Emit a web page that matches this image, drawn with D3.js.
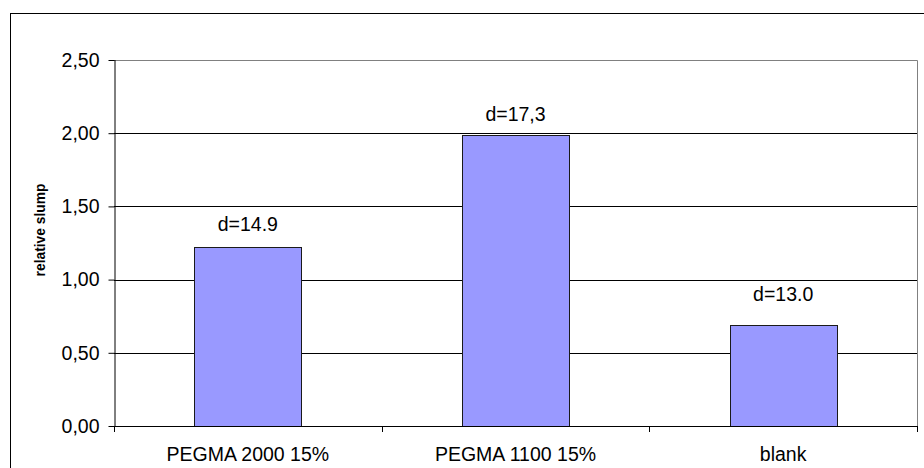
<!DOCTYPE html>
<html>
<head>
<meta charset="utf-8">
<script src="https://cdn.jsdelivr.net/npm/d3@7"></script>
<style>
  html, body { margin: 0; padding: 0; background: #fff; }
  svg { display: block; font-family: "Liberation Sans", Arial, sans-serif; }
</style>
</head>
<body>
<svg id="chart" width="924" height="468"></svg>
<script>
// Relative slump per mixture
const categories = ["PEGMA 2000 15%", "PEGMA 1100 15%", "blank"];
const slumpValues = [1.22, 1.99, 0.69];
const barLabels = ["d=14.9", "d=17,3", "d=13.0"];
const yTicks = [0, 0.5, 1.0, 1.5, 2.0, 2.5];
const yTitle = "relative slump";

const plot = { left: 114, right: 917, top: 60, bottom: 426 };

const svg = d3.select("#chart");

// Outer chart frame (runs past the right and bottom edges)
svg.append("rect")
  .attr("x", 10.5).attr("y", 13.5)
  .attr("width", 930).attr("height", 480)
  .attr("fill", "#fff").attr("stroke", "#000").attr("stroke-width", 1);

const x = d3.scaleBand()
  .domain(categories)
  .range([plot.left, plot.right])
  .paddingInner(0.6)
  .paddingOuter(0.3);

const xCat = d3.scaleBand()
  .domain(categories)
  .range([plot.left, plot.right])
  .padding(0);

const y = d3.scaleLinear()
  .domain([0, 2.5])
  .range([plot.bottom, plot.top]);

const locale = d3.formatLocale({ decimal: ",", thousands: ".", grouping: [3], currency: ["", ""] });
const fmt = locale.format(".2f");

// Horizontal gridlines
svg.append("g")
  .selectAll("line")
  .data(yTicks.filter(t => t > 0 && t < 2.5))
  .join("line")
  .attr("x1", plot.left).attr("x2", plot.right)
  .attr("y1", d => Math.round(y(d)) + 0.5).attr("y2", d => Math.round(y(d)) + 0.5)
  .attr("stroke", "#000").attr("stroke-width", 1);

// Plot area border (top & right)
svg.append("path")
  .attr("d", `M${plot.left},${plot.top + 0.5}H${plot.right + 0.5}V${plot.bottom}`)
  .attr("fill", "none").attr("stroke", "#808080").attr("stroke-width", 1);

// Bars
svg.append("g")
  .selectAll("rect")
  .data(categories)
  .join("rect")
  .attr("x", d => Math.round(x(d)) + 0.5)
  .attr("y", (d, i) => Math.round(y(slumpValues[i])) + 0.5)
  .attr("width", Math.round(x.bandwidth()))
  .attr("height", (d, i) => Math.round(y(0)) - Math.round(y(slumpValues[i])))
  .attr("fill", "#9999ff")
  .attr("stroke", "#1a1a1a").attr("stroke-width", 1);

// Value labels above bars
const labelLift = [16, 13.5, 24];
svg.append("g")
  .selectAll("text")
  .data(categories)
  .join("text")
  .attr("x", d => x(d) + x.bandwidth() / 2)
  .attr("y", (d, i) => y(slumpValues[i]) - labelLift[i])
  .attr("text-anchor", "middle")
  .attr("font-size", "19.5px")
  .attr("fill", "#000")
  .text((d, i) => barLabels[i]);

// Y axis
const yAxis = svg.append("g")
  .attr("transform", `translate(${plot.left + 0.5},0)`)
  .call(d3.axisLeft(y).tickValues(yTicks).tickFormat(fmt).tickSize(6).tickPadding(9));
yAxis.select(".domain").attr("stroke", "#000").attr("d", `M0.5,${plot.top}V${plot.bottom + 0.5}`);
yAxis.selectAll(".tick line").attr("stroke", "#000");
yAxis.selectAll(".tick text")
  .attr("font-size", "19.5px")
  .attr("font-family", "'Liberation Sans', Arial, sans-serif")
  .attr("fill", "#000");

// X axis with category boundary ticks
const xAxisG = svg.append("g");
xAxisG.append("line")
  .attr("x1", plot.left).attr("x2", plot.right + 0.5)
  .attr("y1", plot.bottom + 0.5).attr("y2", plot.bottom + 0.5)
  .attr("stroke", "#000");
const bounds = categories.map(c => xCat(c)).concat([plot.right]);
xAxisG.selectAll("line.tk")
  .data(bounds)
  .join("line")
  .attr("class", "tk")
  .attr("x1", d => Math.round(d) + 0.5).attr("x2", d => Math.round(d) + 0.5)
  .attr("y1", plot.bottom).attr("y2", plot.bottom + 6)
  .attr("stroke", "#000");
xAxisG.selectAll("text")
  .data(categories)
  .join("text")
  .attr("x", d => xCat(d) + xCat.bandwidth() / 2)
  .attr("y", 461)
  .attr("text-anchor", "middle")
  .attr("font-size", "19.5px")
  .attr("fill", "#000")
  .text(d => d);

// Y axis title
svg.append("text")
  .attr("transform", `translate(45,230) rotate(-90)`)
  .attr("text-anchor", "middle")
  .attr("font-size", "13.8px")
  .attr("font-weight", "bold")
  .attr("fill", "#000")
  .text(yTitle);
</script>
</body>
</html>
